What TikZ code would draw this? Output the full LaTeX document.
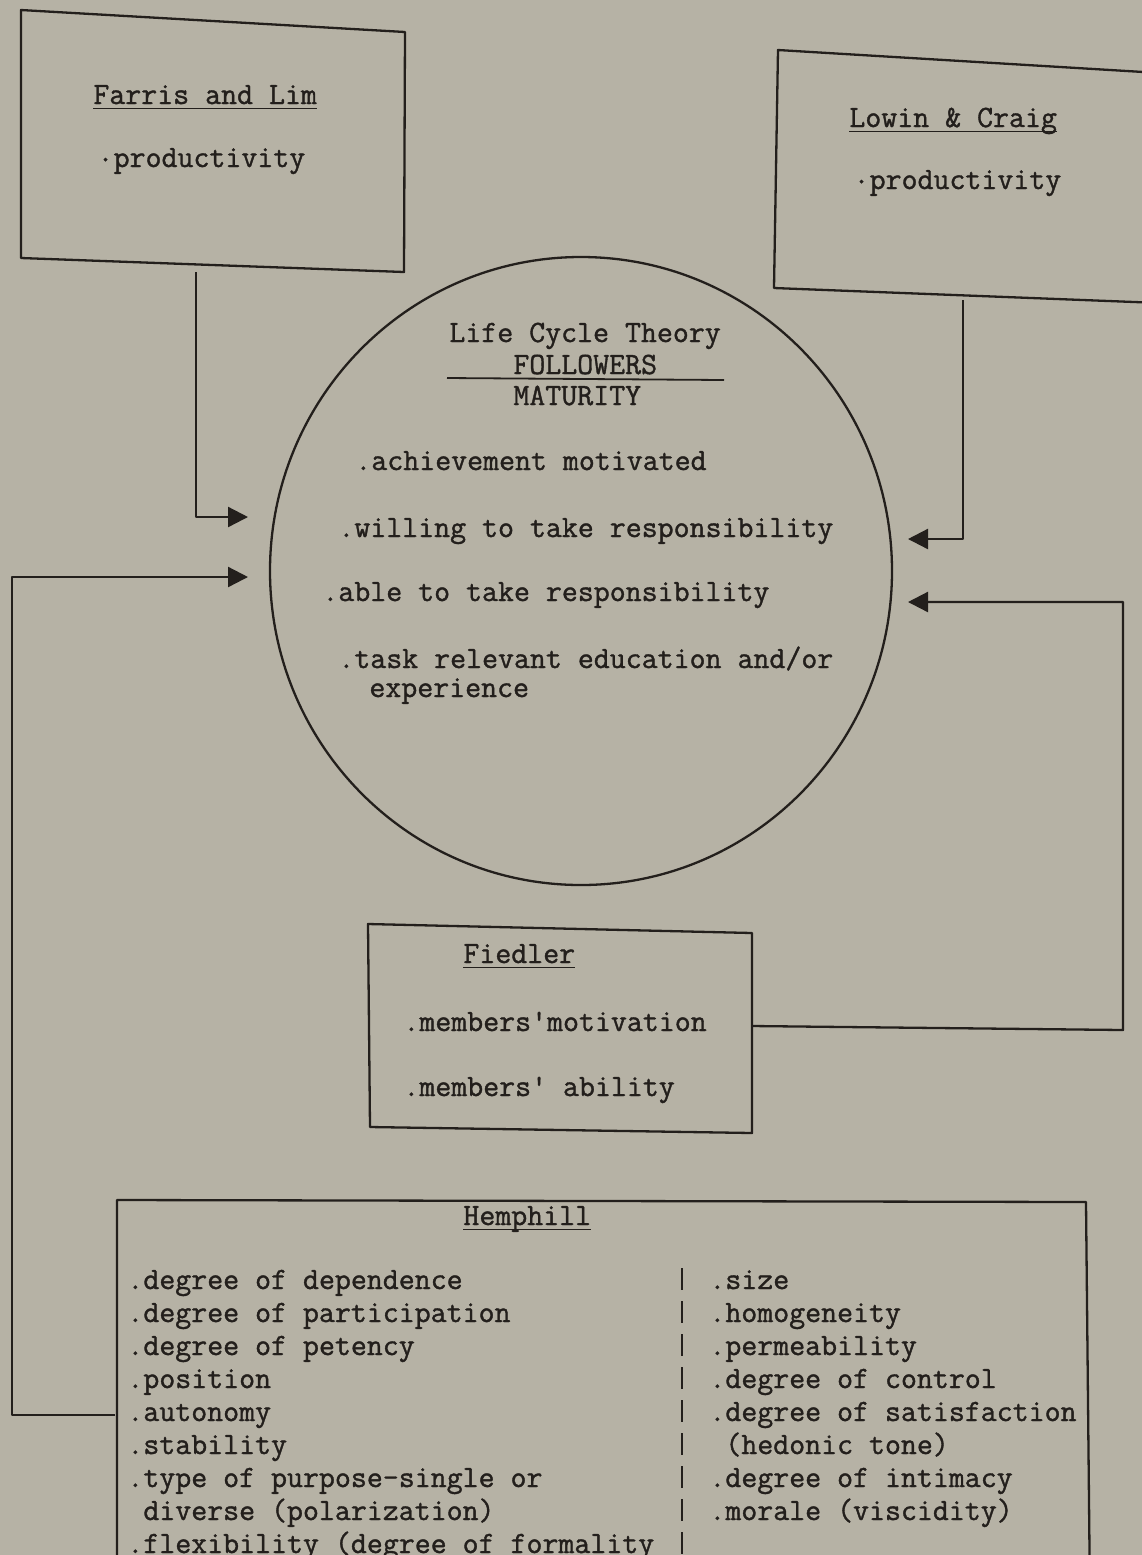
\documentclass[tikz,border=0pt]{standalone}
\usepackage{fontspec}
\setmonofont{Latin Modern Mono}[FakeBold=1.2]
\usetikzlibrary{arrows.meta,shapes.geometric}
\definecolor{paper}{RGB}{182,178,165}
\definecolor{ink}{RGB}{35,31,28}
% typewriter face used for every label
\newcommand\tw{\fontsize{15.5}{16.5}\selectfont\ttfamily}
% typed underline that runs just below the baseline
\newcommand\twul[1]{\setbox0\hbox{#1}\rlap{\rule[-2.6pt]{\wd0}{0.8pt}}\box0}
% raised bullet dot, one character wide
\newcommand\twdot{\makebox[0.525em][c]{\raisebox{0.18em}{.}}}
\tikzset{
  boxline/.style={line width=1.15pt, line join=round},
  link/.style={line width=1.15pt, line join=round},
  tip/.style={-{Triangle[length=10pt,width=10pt]}},
  txt/.style={anchor=base west, inner sep=0pt, font=\tw},
}
\begin{document}
\begin{tikzpicture}[x=0.5pt,y=-0.5pt,color=ink]
\useasboundingbox (0,0) rectangle (1142,1555);
\fill[paper] (0,0) rectangle (1142,1555);
\clip (0,0) rectangle (1142,1555);

% ---- Farris and Lim ----
\coordinate (fa-nw) at (21,10);
\coordinate (fa-ne) at (405,32);
\coordinate (fa-se) at (404,272);
\coordinate (fa-sw) at (21,258);
\draw[boxline] (fa-nw) -- (fa-ne) -- (fa-se) -- (fa-sw) -- cycle;
\node[txt] (fa-title) at (93,104) {\twul{Farris and Lim}};
\node[txt] (fa-item) at (97,167) {\twdot productivity};

% ---- Lowin & Craig ----
\coordinate (lw-nw) at (778,50);
\coordinate (lw-ne) at (1160,73);
\coordinate (lw-se) at (1160,303);
\coordinate (lw-sw) at (774,288);
\draw[boxline] (lw-ne) -- (lw-nw) -- (lw-sw) -- (lw-se);
\node[txt] (lw-title) at (849,127) {\twul{Lowin \& Craig}};
\node[txt] (lw-item) at (853,189) {\twdot productivity};

% ---- Life Cycle Theory ----
\node[draw, ellipse, boxline, minimum width=311pt, minimum height=314pt, inner sep=0pt] (lct) at (581,571) {};
\node[txt] (lct-title) at (449,342) {Life Cycle Theory};
\node[txt] (lct-num) at (513,374) {FOLLOWERS};
\node[txt] (lct-den) at (513,405) {MATURITY};
\coordinate (bar-l) at (447,378);
\coordinate (bar-r) at (724,380);
\draw[line width=0.9pt] (bar-l) -- (bar-r);
\node[txt] (lct-a) at (355,470) {.achievement motivated};
\node[txt] (lct-b) at (338,537) {.willing to take responsibility};
\node[txt] (lct-c) at (322,601) {.able to take responsibility};
\node[txt] (lct-d) at (338,668) {.task relevant education and/or};
\node[txt] (lct-e) at (369,697) {experience};

% ---- Fiedler ----
\coordinate (fd-nw) at (368,924);
\coordinate (fd-ne) at (752,933);
\coordinate (fd-se) at (752,1133);
\coordinate (fd-sw) at (370,1127);
\draw[boxline] (fd-nw) -- (fd-ne) -- (fd-se) -- (fd-sw) -- cycle;
\node[txt] (fd-title) at (463,963) {\twul{Fiedler}};
\node[txt] (fd-a) at (403,1031) {.members\textquotesingle motivation};
\node[txt] (fd-b) at (403,1096) {.members\textquotesingle\ ability};

% ---- Hemphill ----
\coordinate (hp-sw) at (117,1600);
\coordinate (hp-nw) at (117,1200);
\coordinate (hp-ne) at (1086,1202);
\coordinate (hp-se) at (1090,1600);
\draw[boxline] (hp-sw) -- (hp-nw) -- (hp-ne) -- (hp-se);
\node[txt] (hp-title) at (463,1225) {\twul{Hemphill}};
\coordinate (div-top) at (682,1268);
\coordinate (div-bot) at (682,1600);
\draw[line width=0.8pt, dash pattern=on 11pt off 5.5pt] (div-top) -- (div-bot);
\foreach \t [count=\i] in {
  {.degree of dependence},
  {.degree of participation},
  {.degree of petency},
  {.position},
  {.autonomy},
  {.stability},
  {.type of purpose-single or},
  {\ diverse (polarization)},
  {.flexibility (degree of formality}}
  \node[txt] (hp-l\i) at (127,{1289+33*(\i-1)}) {\t};
\foreach \t [count=\i] in {
  {.size},
  {.homogeneity},
  {.permeability},
  {.degree of control},
  {.degree of satisfaction},
  {\ (hedonic tone)},
  {.degree of intimacy},
  {.morale (viscidity)}}
  \node[txt] (hp-r\i) at (709,{1289+33*(\i-1)}) {\t};

% ---- connectors into the circle ----
\coordinate (fa-out) at (196,272);
\coordinate (in-fa) at (248,517);
\draw[link,tip] (fa-out) |- (in-fa);

\coordinate (hp-out) at (115,1415);
\coordinate (bend-l) at (12,1415);
\coordinate (in-hp) at (248,577);
\draw[link,tip] (hp-out) -- (bend-l) |- (in-hp);

\coordinate (lw-out) at (963,300);
\coordinate (in-lw) at (908,539);
\draw[link,tip] (lw-out) |- (in-lw);

\coordinate (fd-out) at (752,1026);
\coordinate (bend-r) at (1123,1030);
\coordinate (in-fd) at (908,602);
\draw[link,tip] (fd-out) -- (bend-r) |- (in-fd);
\end{tikzpicture}
\end{document}
